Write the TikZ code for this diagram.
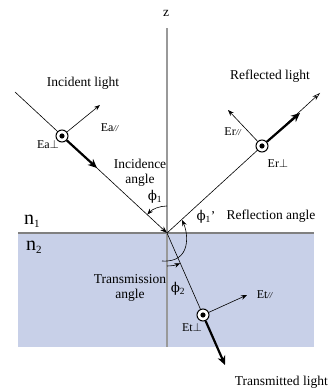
\documentclass[tikz,border=0pt]{standalone}
\usepackage{fontspec}
\setmainfont{Liberation Serif}
\newfontfamily\grk{DejaVu Serif}
\usetikzlibrary{arrows.meta}
\definecolor{glass}{RGB}{200,208,232}
\tikzset{
  ray/.style={line width=0.6pt},
  thinarrow/.style={line width=0.6pt,-{Stealth[length=6pt,width=4.5pt]}},
  thickarrow/.style={line width=2.2pt,-{Stealth[length=9pt,width=8pt]}},
  pol/.style={circle,draw,line width=1pt,fill=white,minimum size=12pt,inner sep=0pt,
    path picture={\fill[black] (path picture bounding box.center) circle (2.6pt);}},
  lbl/.style={font=\fontsize{13.5}{15}\selectfont,inner sep=1pt},
  elbl/.style={font=\fontsize{12}{14}\selectfont,inner sep=1pt},
}
\newcommand{\ph}{{\grk ϕ}}
\newcommand{\para}{{\fontsize{9}{10}\selectfont\textit{//}}}
\begin{document}
\begin{tikzpicture}[x=1pt,y=1pt]
  \useasboundingbox (0,0) rectangle (330,391);
  % second medium and interface
  \fill[glass] (18,44) rectangle (314,158);
  \draw[gray,line width=1.2pt] (18,158) -- (314,158);
  \coordinate (O) at (167,158);
  \coordinate (ztop) at (167,363);
  \coordinate (zbot) at (167,44);
  \draw[gray!80,line width=1.5pt] (zbot) -- (ztop);
  \node[lbl] (z) at (166,378) {z};
  \node[font=\fontsize{20}{22}\selectfont] (n1) at (32,170) {n\textsubscript{\fontsize{11}{11}\selectfont 1}};
  \node[font=\fontsize{20}{22}\selectfont] (n2) at (34,144) {n\textsubscript{\fontsize{11}{11}\selectfont 2}};
  % rays
  \coordinate (inc) at (15,299);
  \coordinate (refl) at (320,298);
  \coordinate (tra) at (225,26);
  \draw[ray,-{Stealth[length=7pt,width=5pt]}] (inc) -- (O);
  \draw[ray,-{Stealth[open,length=8pt,width=5pt]}] (O) -- (refl);
  \draw[ray] (O) -- (203,76);
  % field vectors
  \node[pol] (ea) at (62,255) {};
  \node[pol] (er) at (262,245) {};
  \node[pol] (et) at (203,76) {};
  \coordinate (eapar) at (100,286);
  \coordinate (erpar) at (228,281);
  \coordinate (etpar) at (247,96);
  \coordinate (eak) at (97,223);
  \coordinate (erk) at (300,278);
  \draw[thinarrow] (ea) -- (eapar);
  \draw[thinarrow] (er) -- (erpar);
  \draw[thinarrow] (et) -- (etpar);
  \draw[thickarrow] (ea) -- (eak);
  \draw[thickarrow] (er) -- (erk);
  \draw[thickarrow] (et) -- (tra);
  % angles
  \draw[thinarrow] (167,185) arc[start angle=90,end angle=137,radius=27];
  \draw[thinarrow] (162,130) .. controls (192,128) and (188,158) .. (182,171);
  \draw[thinarrow] (167,125) arc[start angle=270,end angle=293.7,radius=33];
  % labels
  \node[lbl] (inclbl) at (83,308) {Incident light};
  \node[lbl] (refllbl) at (270,315) {Reflected light};
  \node[lbl,anchor=east] (tralbl) at (329,9) {Transmitted light};
  \node[elbl] (eaparlbl) at (110,263) {Ea\para};
  \node[elbl] (eaperp) at (48,247) {Ea$\perp$};
  \node[elbl] (erparlbl) at (233,259) {Er\para};
  \node[elbl] (erperp) at (278,228) {Er$\perp$};
  \node[elbl] (etparlbl) at (265,96) {Et\para};
  \node[elbl] (etperp) at (192,64) {Et$\perp$};
  \node[lbl,align=center] (incang) at (140,218) {Incidence\\angle};
  \node[lbl] (phi1) at (155,194) {\ph\textsubscript{1}};
  \node[lbl] (phi1r) at (206,174) {\ph\textsubscript{1}'};
  \node[lbl] (reflang) at (271,175) {Reflection angle};
  \node[lbl,align=center] (traang) at (130,103) {Transmission\\angle};
  \node[lbl] (phi2) at (178,102) {\ph\textsubscript{2}};
\end{tikzpicture}
\end{document}
